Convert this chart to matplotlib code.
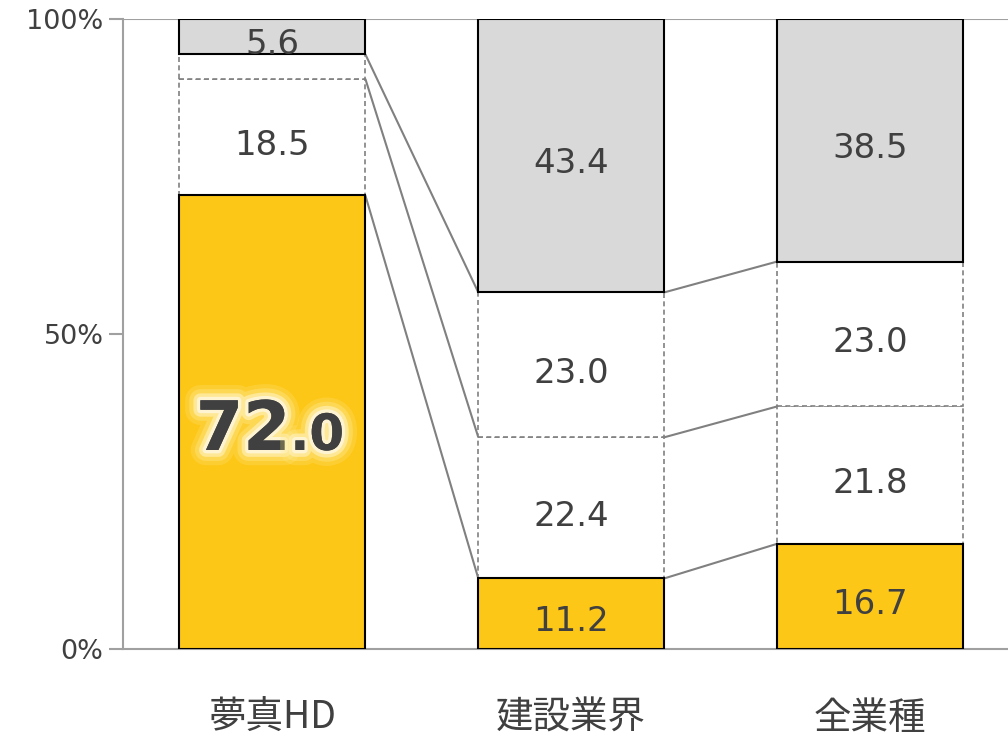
import matplotlib
matplotlib.use("Agg")
import matplotlib.pyplot as plt
import matplotlib.patheffects as pe
import numpy as np

plt.rcParams['font.family'] = ['Noto Sans CJK JP', 'DejaVu Sans']

categories = ['夢真HD', '建設業界', '全業種']
# segments from bottom to top
seg_yellow = [72.0, 11.2, 16.7]
seg_white1 = [18.5, 22.4, 21.8]
seg_white2 = [3.9, 23.0, 23.0]
seg_gray = [5.6, 43.4, 38.5]
labels_white2 = ['', '23.0', '23.0']

yellow = '#FDC718'
gray = '#D9D9D9'
txt = '#404040'
line_gray = '#808080'
width = 0.622
num_font = 'DejaVu Sans'

fig = plt.figure(figsize=(10.08, 7.38), dpi=100)
ax = fig.add_axes([123 / 1008, 89 / 738, 896.5 / 1008, 630 / 738])
ax.set_xlim(-0.5, 2.5)
ax.set_ylim(0, 100)

x = np.arange(len(categories))
b1 = np.array(seg_yellow)
b2 = b1 + np.array(seg_white1)
b3 = b2 + np.array(seg_white2)

# white segments (dashed)
ax.bar(x, seg_white1, width, bottom=b1, color='white', edgecolor=line_gray,
       linewidth=1.2, linestyle=(0, (3, 2)), zorder=2)
ax.bar(x, seg_white2, width, bottom=b2, color='white', edgecolor=line_gray,
       linewidth=1.2, linestyle=(0, (3, 2)), zorder=2)
# coloured segments
ax.bar(x, seg_yellow, width, color=yellow, edgecolor='black', linewidth=1.5, zorder=3)
ax.bar(x, seg_gray, width, bottom=b3, color=gray, edgecolor='black', linewidth=1.5, zorder=3)

# connector lines between bars
for levels in (b1, b2, b3):
    for i in range(len(categories) - 1):
        ax.plot([x[i] + width / 2, x[i + 1] - width / 2], [levels[i], levels[i + 1]],
                color=line_gray, linewidth=1.5, zorder=1, solid_capstyle='butt')

ax.axhline(100, color='#A0A0A0', linewidth=1.5, zorder=0)

# value labels
def label(xx, yy, s):
    ax.text(xx, yy - 1.3, s, ha='center', va='center', fontsize=24.5,
            color=txt, zorder=5, family=num_font)

for i in range(len(categories)):
    if i > 0:
        label(x[i], seg_yellow[i] / 2, f'{seg_yellow[i]:.1f}')
    label(x[i], b1[i] + seg_white1[i] / 2, f'{seg_white1[i]:.1f}')
    if labels_white2[i]:
        label(x[i], b2[i] + seg_white2[i] / 2, labels_white2[i])
    label(x[i], b3[i] + seg_gray[i] / 2, f'{seg_gray[i]:.1f}')

# highlighted big label with a soft glow
glow = [pe.withStroke(linewidth=22, foreground='#FFE680', alpha=0.25),
        pe.withStroke(linewidth=16, foreground='#FFEB99', alpha=0.35),
        pe.withStroke(linewidth=10, foreground='#FFF2C0', alpha=0.6),
        pe.withStroke(linewidth=5, foreground='#FFF6D8', alpha=0.9),
        pe.Normal()]
y72 = seg_yellow[0] / 2 - 4.4
ax.text(x[0] + 0.06, y72, '72', ha='right', va='baseline',
        fontsize=49, fontweight='bold', color=txt, zorder=6, path_effects=glow,
        family=num_font)
ax.text(x[0] + 0.06, y72, '.0', ha='left', va='baseline',
        fontsize=36, fontweight='bold', color=txt, zorder=6, path_effects=glow,
        family=num_font)

# axes styling
for s in ('top', 'right'):
    ax.spines[s].set_visible(False)
ax.spines['left'].set_color('#A0A0A0')
ax.spines['bottom'].set_color('#A0A0A0')
ax.spines['left'].set_linewidth(1.5)
ax.spines['bottom'].set_linewidth(1.5)
ax.set_yticks([0, 50, 100])
ax.set_yticklabels(['0%', '50%', '100%'], family=num_font)
ax.tick_params(axis='y', length=10, width=1.5, color='#A0A0A0', labelsize=19.5,
               labelcolor=txt, pad=4)
ax.set_xticks(x)
ax.set_xticklabels(categories)
ax.tick_params(axis='x', length=0, labelsize=27, labelcolor=txt, pad=36)

fig.savefig('out.png', dpi=100)
